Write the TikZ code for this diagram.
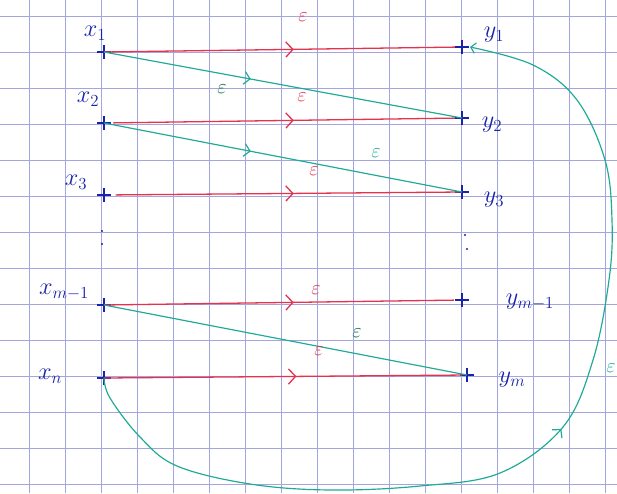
\documentclass[tikz,border=0pt]{standalone}
\usetikzlibrary{arrows.meta,decorations.markings,shapes.misc}
\definecolor{gridc}{RGB}{165,165,222}
\definecolor{pen}{RGB}{25,35,170}
\definecolor{redpen}{RGB}{228,50,80}
\definecolor{greenpen}{RGB}{30,170,150}
\definecolor{darkgreen}{RGB}{20,110,70}
\begin{document}
\begin{tikzpicture}[x=0.03cm,y=-0.03cm,
  pt/.style={draw=pen,cross out,rotate=45,minimum size=7pt,inner sep=0pt,line width=0.9pt},
  lbl/.style={text=pen,font=\huge},
  redline/.style={draw=redpen,line width=1.1pt,postaction={decorate},
    decoration={markings,mark=at position 0.53 with {\arrow[redpen,line width=1.1pt]{Straight Barb[length=6pt,width=13pt]}}}},
  greenline/.style={draw=greenpen,line width=1pt},
  greenmark/.style={postaction={decorate},
    decoration={markings,mark=at position #1 with {\arrow[greenpen,line width=1pt]{Straight Barb[length=5pt,width=11pt]}}}},
  reps/.style={text=redpen,font=\LARGE},
  geps/.style={text=darkgreen,font=\LARGE},
  teps/.style={text=greenpen,font=\LARGE}]
\useasboundingbox (0,0) rectangle (617,493);
\fill[white] (0,0) rectangle (617,493);
% grid
\foreach \i in {0,...,16} \draw[gridc,line width=0.6pt] (29+36*\i,0) -- (29+36*\i,493);
\foreach \j in {0,...,13} \draw[gridc,line width=0.6pt] (0,16+36*\j) -- (617,16+36*\j);
% points
\node[pt] (x1) at (104,52) {};
\node[pt] (x2) at (104,123) {};
\node[pt] (x3) at (104,195) {};
\node[pt] (xm1) at (104,305) {};
\node[pt] (xn) at (104,378) {};
\node[pt] (y1) at (462,47) {};
\node[pt] (y2) at (462,118) {};
\node[pt] (y3) at (462,192) {};
\node[pt] (ym1) at (462,300) {};
\node[pt] (ym) at (467,375) {};
% labels
\node[lbl] (lx1) at (95,33) {$x_1$};
\node[lbl] (lx2) at (88,99) {$x_2$};
\node[lbl] (lx3) at (76,182) {$x_3$};
\node[lbl] (lxm1) at (64,292) {$x_{m-1}$};
\node[lbl] (lxn) at (50,376) {$x_n$};
\node[lbl] (ly1) at (494,35) {$y_1$};
\node[lbl] (ly2) at (492,125) {$y_2$};
\node[lbl] (ly3) at (494,200) {$y_3$};
\node[lbl] (lym1) at (530,302) {$y_{m-1}$};
\node[lbl] (lym) at (512,380) {$y_m$};
% vertical dots
\fill[pen] (102,231) circle (0.9pt) (102,244) circle (0.9pt);
\fill[pen] (465,235) circle (0.9pt) (467,249) circle (0.9pt);
% red edges
\draw[redline,shorten >=6pt] (x1.center) -- (y1.center);
\draw[redline,shorten >=6pt,shorten <=8pt] (x2.center) -- (y2.center);
\draw[redline,shorten >=2pt,shorten <=10pt] (x3.center) -- (y3.center);
\draw[redline,shorten >=7pt] (xm1.center) -- (ym1.center);
\draw[redline,shorten >=4pt] (xn.center) -- (ym.center);
% green edges
\draw[greenline,greenmark=0.41] (x1.center) -- (y2.center);
\draw[greenline,greenmark=0.41] (x2.center) -- (y3.center);
\draw[greenline] (xm1.center) -- (ym.center);
% big return curve
\draw[greenline,greenmark=0.527,-{Straight Barb[length=4pt,width=9pt]}]
  plot[smooth,tension=0.6] coordinates {(xn.center) (110,398) (140,437) (177,466) (250,484) (330,490) (420,486) (500,473) (563,427) (593,360) (609,280) (612,220) (605,160) (577,100) (533,65) (470,47)};
% epsilon labels
\node[reps] (e1) at (303,17) {$\varepsilon$};
\node[reps] (e2) at (302,97) {$\varepsilon$};
\node[reps] (e3) at (314,171) {$\varepsilon$};
\node[reps] (e4) at (316,290) {$\varepsilon$};
\node[reps] (e5) at (319,351) {$\varepsilon$};
\node[geps] (g1) at (222,89) {$\varepsilon$};
\node[teps] (g2) at (376,153) {$\varepsilon$};
\node[geps] (g3) at (357,333) {$\varepsilon$};
\node[teps] (g4) at (611,368) {$\varepsilon$};
\end{tikzpicture}
\end{document}
